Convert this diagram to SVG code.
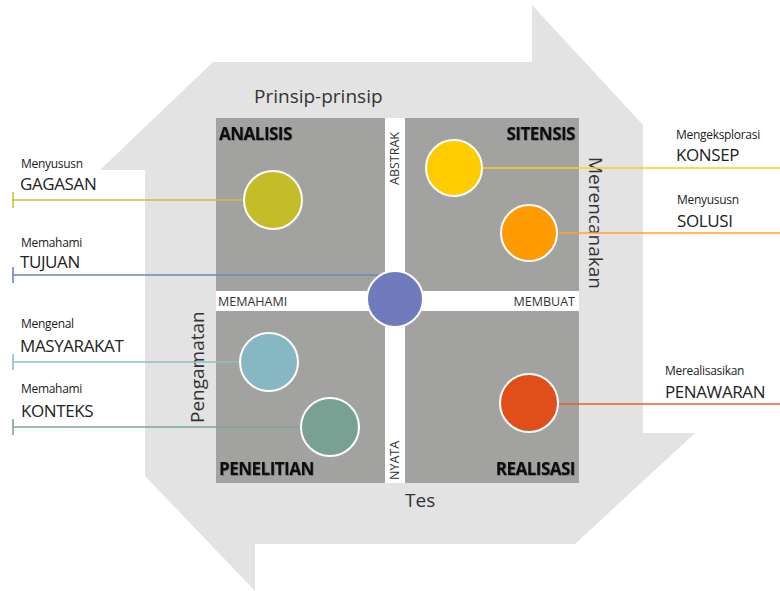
<svg xmlns="http://www.w3.org/2000/svg" width="780" height="591" viewBox="0 0 780 591">
<defs>
<style>
text{font-family:"Open Sans","Liberation Sans",sans-serif;fill:#222}
.bg{fill:#e3e3e3}
.quad{fill:#a2a3a1}
.band{fill:#ffffff}
.title{font-size:17px;font-weight:bold;fill:#111;letter-spacing:-0.5px;filter:url(#sh)}
.small{font-size:12px;letter-spacing:-0.3px}
.big{font-size:17px;letter-spacing:-0.4px}
.axis{font-size:19px;fill:#333}
.tag{font-size:12.5px;fill:#333}
.node circle{stroke:#ffffff;stroke-width:2}
.conn line{stroke-width:1.6;fill:none}
</style>
<filter id="sh" x="-10%" y="-30%" width="120%" height="160%">
<feDropShadow dx="0.6" dy="0.6" stdDeviation="0.7" flood-color="#000" flood-opacity="0.45"/>
</filter>
</defs>
<rect width="780" height="591" fill="#ffffff"/>
<polygon class="bg" points="213,62 532,62 532,5 643,125 643,433 695,433 575,544 255,544 255,591 145,476 145,170 100,170"/>
<rect class="band" x="216" y="118" width="363" height="365"/>
<rect class="quad" x="216" y="118" width="169" height="173"/>
<rect class="quad" x="405" y="118" width="174" height="173"/>
<rect class="quad" x="216" y="311" width="169" height="172"/>
<rect class="quad" x="405" y="311" width="174" height="172"/>
<text class="axis" x="254" y="103">Prinsip-prinsip</text>
<text class="axis" x="405" y="507">Tes</text>
<text class="axis" transform="translate(589,157) rotate(90)">Merencanakan</text>
<text class="axis" transform="translate(204,423) rotate(-90)">Pengamatan</text>
<text class="tag" transform="translate(399,185) rotate(-90)">ABSTRAK</text>
<text class="tag" transform="translate(399,480) rotate(-90)">NYATA</text>
<text class="tag" x="218" y="306">MEMAHAMI</text>
<text class="tag" x="575" y="306" text-anchor="end">MEMBUAT</text>
<text class="title" x="219" y="140">ANALISIS</text>
<text class="title" x="575" y="140" text-anchor="end">SITENSIS</text>
<text class="title" x="219" y="475">PENELITIAN</text>
<text class="title" x="575" y="475" text-anchor="end">REALISASI</text>
<g class="conn">
<line x1="13" y1="200" x2="273" y2="200" stroke="#c8c13a"/>
<line x1="13" y1="192" x2="13" y2="208" stroke="#c8c13a"/>
<line x1="13" y1="275" x2="390" y2="275" stroke="#7481c4"/>
<line x1="13" y1="267" x2="13" y2="283" stroke="#7481c4"/>
<line x1="13" y1="362" x2="269" y2="362" stroke="#8cbfc8"/>
<line x1="13" y1="354" x2="13" y2="370" stroke="#8cbfc8"/>
<line x1="13" y1="427" x2="330" y2="427" stroke="#7ea699"/>
<line x1="13" y1="419" x2="13" y2="435" stroke="#7ea699"/>
<line x1="454" y1="168" x2="780" y2="168" stroke="#ffcc22"/>
<line x1="529" y1="233" x2="780" y2="233" stroke="#ffa52a"/>
<line x1="529" y1="404" x2="780" y2="404" stroke="#e2612e"/>
</g>
<g id="analisis-gagasan" class="node"><circle cx="273" cy="200" r="29" fill="#c5bd28"/><text class="small" x="21" y="168">Menyususn</text><text class="big" x="20" y="190">GAGASAN</text></g>
<g id="tujuan" class="node"><circle cx="395" cy="299" r="28" fill="#6f7bbd"/><text class="small" x="21" y="247">Memahami</text><text class="big" x="20" y="268">TUJUAN</text></g>
<g id="konsep" class="node"><circle cx="454" cy="168" r="28" fill="#ffcc00"/><text class="small" x="676" y="139">Mengeksplorasi</text><text class="big" x="676" y="161">KONSEP</text></g>
<g id="solusi" class="node"><circle cx="529" cy="233" r="28" fill="#ff9a00"/><text class="small" x="677" y="204">Menyususn</text><text class="big" x="677" y="227">SOLUSI</text></g>
<g id="masyarakat" class="node"><circle cx="269" cy="362" r="29" fill="#86b8c4"/><text class="small" x="21" y="328">Mengenal</text><text class="big" x="20" y="352">MASYARAKAT</text></g>
<g id="konteks" class="node"><circle cx="330" cy="427" r="29" fill="#78a093"/><text class="small" x="21" y="393">Memahami</text><text class="big" x="21" y="417">KONTEKS</text></g>
<g id="penawaran" class="node"><circle cx="529" cy="403" r="29" fill="#e04e1a"/><text class="small" x="665" y="375">Merealisasikan</text><text class="big" x="665" y="398">PENAWARAN</text></g>
</svg>
